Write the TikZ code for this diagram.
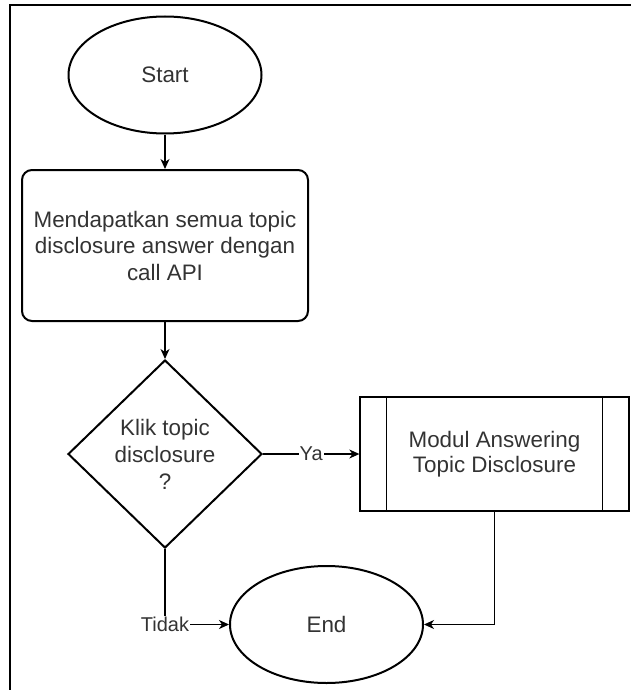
\documentclass[tikz,border=0pt]{standalone}
\usepackage{fontspec}
\setmainfont{Liberation Sans}
\usetikzlibrary{shapes.geometric,arrows.meta}

\begin{document}
\begin{tikzpicture}[x=1pt,y=-1pt,->,>={Stealth[length=10pt,width=9pt,inset=3pt]},line width=1.3pt]
\tikzset{TermStyle/.style = {draw,ellipse,line width=2pt,
                             minimum width=193pt,minimum height=117pt,
                             inner sep=0pt,font=\fontsize{22.4}{27}\selectfont,text=black!80},
         ProcStyle/.style = {draw,rounded corners=10pt,line width=2pt,
                             minimum width=286pt,minimum height=151pt,align=center,
                             font=\fontsize{22.4}{26.5}\selectfont,text=black!80},
         DecStyle/.style  = {draw,diamond,line width=2pt,
                             minimum width=194pt,minimum height=188pt,inner sep=0pt,
                             align=center,font=\fontsize{22.4}{27}\selectfont,text=black!80},
         SubStyle/.style  = {draw,rectangle,line width=1.3pt,
                             minimum width=269pt,minimum height=114pt,align=center,
                             font=\fontsize{22.4}{25}\selectfont,text=black!80},
         LblStyle/.style  = {fill=white,inner sep=1pt,
                             font=\fontsize{20}{24}\selectfont,text=black!80}}
\useasboundingbox (0,0) rectangle (631,690);
\draw[-,line width=2pt] (10,690) -- (10,5) -- (631,5);

\node[TermStyle] (start)  at (165,75)      {Start};
\node[ProcStyle] (api)    at (165,245.5)   {Mendapatkan semua topic\\disclosure answer dengan\\call API};
\node[DecStyle]  (klik)   at (165,454)     {Klik topic\\disclosure\\?};
\node[SubStyle]  (modul)  at (494.5,454)   {Modul Answering\\Topic Disclosure};
\node[TermStyle] (finish) at (326.5,624.5) {End};

\draw[-] ([xshift=27pt]modul.north west) -- ([xshift=27pt]modul.south west)
         ([xshift=-27pt]modul.north east) -- ([xshift=-27pt]modul.south east);

\draw (start) -- (api);
\draw (api) -- (klik);
\draw (klik) -- node[LblStyle] {Ya} (modul);
\draw (klik) |- node[LblStyle] {Tidak} (finish);
\draw (modul) |- (finish);
\end{tikzpicture}
\end{document}
